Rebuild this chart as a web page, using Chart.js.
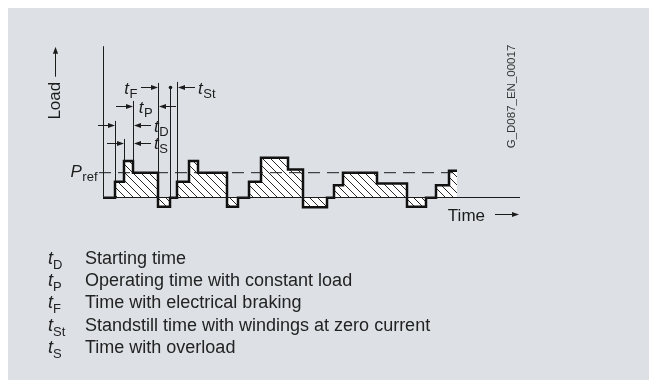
<!DOCTYPE html>
<html>
<head>
<meta charset="utf-8">
<script src="https://cdn.jsdelivr.net/npm/chart.js@4.4.0/dist/chart.umd.min.js"></script>
<style>
  body { margin: 0; background: #fff; }
  #wrap { position: relative; width: 649px; height: 380px; overflow: hidden; }
  #panel { position: absolute; left: 8px; top: 8px; right: 0; bottom: 0; background: #dde1e5; }
  #myChart { position: absolute; left: 0; top: 0; }
  #gloss { position: absolute; left: 0; top: 247px; width: 649px;
           font-family: 'Liberation Sans', Arial, sans-serif; font-size: 18px;
           line-height: 22.2px; color: #222; }
  .row { position: relative; height: 22.2px; white-space: nowrap; }
  .sym { position: absolute; left: 48px; }
  .sym i { font-style: italic; }
  .sym sub { font-size: 13px; line-height: 1; vertical-align: -5px; }
  .txt { position: absolute; left: 85px; }
</style>
</head>
<body>
<div id="wrap">
  <div id="panel"></div>
  <canvas id="myChart" width="649" height="380"></canvas>
  <div id="gloss"></div>
</div>
<script>
// load profile: time (arbitrary units) and load (relative to Pref)
const times = [0, 12, 21, 30, 55, 67, 74, 86, 95, 124, 135, 146, 158, 185, 200, 224, 231, 240, 274, 304, 323, 333, 346, 354];
const loads = [0, 0.64, 1.47, 1.0, -0.36, 0, 0.64, 1.47, 1.0, -0.36, 0, 0.64, 1.6, 1.13, -0.38, 0, 0.5, 1.0, 0.57, -0.36, 0, 0.5, 1.08, 1.08];
const pRef = 1.0;
const prefSpan = [-4, 354];
const timeMin = -4, timeMax = 417;
const loadMin = -0.5, loadMax = 6.06;

// dimension lines of the first cycle (index into times, top in load units)
const extIdx = [1, 2, 3, 4, 5, 6];
const extTop = [3.07, 2.35, 3.87, 4.59, 4.45, 4.63];

// arrows: breakpoint index, row height (load units), direction
const arrowIdx = [4, 6, 3, 4, 1, 3, 2, 3];
const arrowRow = [4.39, 4.39, 3.63, 3.63, 2.87, 2.87, 2.17, 2.17];
const arrowDir = [1, -1, 1, -1, 1, -1, 1, -1];

const dimSubs = ['F', 'St', 'P', 'D', 'S'];
const dimIdx = [4, 6, 3, 3, 3];
const dimRow = [4.39, 4.39, 3.63, 2.87, 2.17];
const dimAlign = ['right', 'left', 'center', 'left', 'left'];

const glossSubs = ['D', 'P', 'F', 'St', 'S'];
const glossTexts = ['Starting time', 'Operating time with constant load', 'Time with electrical braking',
  'Standstill time with windings at zero current', 'Time with overload'];

const FONT = "'Liberation Sans', Arial, sans-serif";
const ink = '#1c1c1c';

// glossary below the chart
const gloss = document.getElementById('gloss');
glossTexts.forEach((txt, i) => {
  const row = document.createElement('div');
  row.className = 'row';
  row.innerHTML = '<span class="sym"><i>t</i><sub>' + glossSubs[i] + '</sub></span><span class="txt">' + txt + '</span>';
  gloss.appendChild(row);
});

function hatch() {
  const s = 8;
  const c = document.createElement('canvas');
  c.width = s; c.height = s;
  const g = c.getContext('2d');
  g.fillStyle = '#fff';
  g.fillRect(0, 0, s, s);
  g.strokeStyle = '#2a2a2a';
  g.lineWidth = 1;
  g.beginPath();
  for (const k of [-s, 0, s]) { g.moveTo(k, 0); g.lineTo(k + s, s); }
  g.stroke();
  return g.createPattern(c, 'repeat');
}

function sym(ctx, x, base, main, sub, align, size) {
  size = size || 17;
  const subSize = Math.round(size * 0.78);
  ctx.font = 'italic ' + size + 'px ' + FONT;
  const w1 = ctx.measureText(main).width;
  ctx.font = subSize + 'px ' + FONT;
  const w2 = ctx.measureText(sub).width;
  let x0 = x;
  if (align === 'right') x0 = x - w1 - w2;
  if (align === 'center') x0 = x - (w1 + w2) / 2;
  ctx.textAlign = 'left';
  ctx.textBaseline = 'alphabetic';
  ctx.font = 'italic ' + size + 'px ' + FONT;
  ctx.fillText(main, x0, base);
  ctx.font = subSize + 'px ' + FONT;
  ctx.fillText(sub, x0 + w1 + 0.5, base + 4);
}

function arrow(ctx, tipX, tipY, dx, dy, len) {
  const tx = tipX - dx * len, ty = tipY - dy * len;
  ctx.beginPath();
  ctx.moveTo(tx, ty);
  ctx.lineTo(tipX - dx * 5, tipY - dy * 5);
  ctx.stroke();
  ctx.beginPath();
  ctx.moveTo(tipX, tipY);
  ctx.lineTo(tipX - dx * 7 - dy * 2.6, tipY - dy * 7 + dx * 2.6);
  ctx.lineTo(tipX - dx * 7 + dy * 2.6, tipY - dy * 7 - dx * 2.6);
  ctx.closePath();
  ctx.fill();
}

const dims = {
  id: 'dims',
  afterDatasetsDraw(chart) {
    const {ctx, chartArea, scales: {x, y}} = chart;
    const X = v => x.getPixelForValue(v);
    const Y = v => y.getPixelForValue(v);
    const crisp = p => Math.floor(p) + 0.5;
    ctx.save();
    ctx.strokeStyle = ink;
    ctx.fillStyle = ink;
    ctx.lineWidth = 1;

    // axes
    ctx.beginPath();
    ctx.moveTo(crisp(X(0)), Y(loadMax));
    ctx.lineTo(crisp(X(0)), Y(0));
    ctx.moveTo(X(0), crisp(Y(0)));
    ctx.lineTo(X(timeMax), crisp(Y(0)));
    ctx.stroke();

    // extension lines
    ctx.beginPath();
    extIdx.forEach((i, k) => {
      const px = crisp(X(times[i]));
      ctx.moveTo(px, Y(extTop[k]));
      ctx.lineTo(px, Y(Math.max(loads[i - 1], loads[i])));
    });
    ctx.stroke();

    // dot between t_F and t_St
    ctx.beginPath();
    ctx.arc(crisp(X(times[5])), Y(extTop[4]) + 1, 1.8, 0, Math.PI * 2);
    ctx.fill();

    // dimension arrows
    arrowIdx.forEach((i, k) => {
      arrow(ctx, crisp(X(times[i])) + (arrowDir[k] > 0 ? -0.5 : 0.5), crisp(Y(arrowRow[k])), arrowDir[k], 0, 17);
    });

    // dimension labels
    dimSubs.forEach((s, k) => {
      const px = X(times[dimIdx[k]]);
      const base = Y(dimRow[k]) + 6;
      if (dimAlign[k] === 'right') sym(ctx, px - 21, base, 't', s, 'right');
      else if (dimAlign[k] === 'center') sym(ctx, (px + X(times[dimIdx[k] + 1])) / 2, base, 't', s, 'center');
      else sym(ctx, px + 21, base, 't', s, 'left');
    });

    // P_ref label
    sym(ctx, X(0) - 6, Y(pRef) + 4, 'P', 'ref', 'right');

    // Time axis title and arrow
    ctx.font = '17px ' + FONT;
    ctx.textAlign = 'right';
    ctx.textBaseline = 'alphabetic';
    ctx.fillText('Time', chartArea.right - 35, Y(0) + 23);
    arrow(ctx, chartArea.right - 1, crisp(Y(0) + 16.5), 1, 0, 24);

    // Load axis title and arrow
    ctx.save();
    ctx.translate(X(0) - 43, Y(0) - 97);
    ctx.rotate(-Math.PI / 2);
    ctx.textAlign = 'center';
    ctx.fillText('Load', 0, 0);
    ctx.restore();
    arrow(ctx, crisp(X(0) - 48), Y(0) - 151, 0, -1, 30);

    // drawing code
    ctx.save();
    ctx.fillStyle = '#333';
    ctx.font = '11.5px ' + FONT;
    ctx.translate(chartArea.right - 5, 96.5);
    ctx.rotate(-Math.PI / 2);
    ctx.textAlign = 'center';
    ctx.fillText('G_D087_EN_00017', 0, 0);
    ctx.restore();

    ctx.restore();
  }
};

const data = {
  datasets: [
    {
      label: 'Pref',
      data: prefSpan.map(t => ({x: t, y: pRef})),
      borderColor: ink,
      borderWidth: 1,
      borderDash: [12, 7],
      pointRadius: 0,
      fill: false,
      order: 1
    },
    {
      label: 'Load',
      data: times.map((t, i) => ({x: t, y: loads[i]})),
      stepped: 'before',
      borderColor: '#111',
      borderWidth: 2.5,
      borderJoinStyle: 'miter',
      backgroundColor: hatch(),
      fill: 'origin',
      pointRadius: 0,
      order: 2
    }
  ]
};

const config = {
  type: 'line',
  data,
  options: {
    responsive: false,
    animation: false,
    devicePixelRatio: 1,
    events: [],
    layout: { padding: { left: 99, right: 129, top: 46.2, bottom: 169.8 } },
    plugins: { legend: { display: false }, tooltip: { enabled: false } },
    scales: {
      x: { type: 'linear', min: timeMin, max: timeMax, display: false },
      y: { min: loadMin, max: loadMax, display: false }
    }
  },
  plugins: [dims]
};

const myChart = new Chart(document.getElementById('myChart'), config);
</script>
</body>
</html>
